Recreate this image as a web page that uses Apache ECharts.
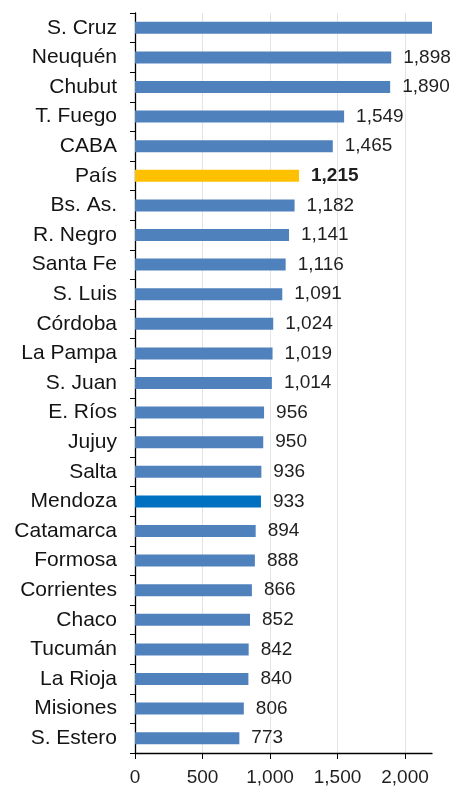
<!DOCTYPE html>
<html><head><meta charset="utf-8">
<script src="https://cdn.jsdelivr.net/npm/echarts@6/dist/echarts.min.js"></script>
<style>html,body{margin:0;padding:0;background:#fff}#c{width:455px;height:787px}</style>
</head><body><div id="c"></div>
<script>
const categories = ['S. Cruz','Neuquén','Chubut','T. Fuego','CABA','País','Bs. As.','R. Negro','Santa Fe','S. Luis','Córdoba','La Pampa','S. Juan','E. Ríos','Jujuy','Salta','Mendoza','Catamarca','Formosa','Corrientes','Chaco','Tucumán','La Rioja','Misiones','S. Estero'];
const values = [2400,1898,1890,1549,1465,1215,1182,1141,1116,1091,1024,1019,1014,956,950,936,933,894,888,866,852,842,840,806,773];
const tickValues = [0,500,1000,1500,2000];
const axisMax = 2200;
const hiddenLabel = ['S. Cruz'];
const highlight = {'País':'#FFC000','Mendoza':'#0070C0'};
const fmt = v => v.toLocaleString('en-US');
const FONT = "'Liberation Sans', Arial, sans-serif";

const data = values.map((v,i)=>{
  const c = categories[i];
  const item = {value:v, itemStyle:{color: highlight[c] || '#4F81BD'}};
  if (hiddenLabel.includes(c)) item.label = {show:false};
  if (c === 'País') item.label = {fontWeight:'bold'};
  return item;
});

const chart = echarts.init(document.getElementById('c'));
chart.setOption({
  animation:false,
  grid:{left:135,right:23,top:13,bottom:32,containLabel:false},
  xAxis:{type:'value',min:0,max:axisMax,interval:500,
    axisLine:{show:true,lineStyle:{color:'#000',width:1.3}},
    axisTick:{show:true,length:6,lineStyle:{color:'#000'},customValues:tickValues},
    axisLabel:{fontSize:19,color:'#1f1f1f',fontFamily:FONT,margin:15,formatter:v=>fmt(v),customValues:tickValues},
    splitLine:{show:true,lineStyle:{color:['#e3e3e3','#e3e3e3','#e3e3e3','#e3e3e3','#e3e3e3','rgba(0,0,0,0)'],width:1}}
  },
  yAxis:{type:'category',data:categories,inverse:true,
    axisLine:{show:true,lineStyle:{color:'#000',width:1.3}},
    axisTick:{show:true,length:5,lineStyle:{color:'#000'}},
    axisLabel:{fontSize:21,color:'#141414',fontFamily:FONT,margin:18}
  },
  series:[{type:'bar',data:data,barWidth:12,clip:true,
    label:{show:true,position:'right',distance:12,fontSize:19,color:'#1f1f1f',fontFamily:FONT,formatter:p=>fmt(p.value)}
  }]
});
</script></body></html>
